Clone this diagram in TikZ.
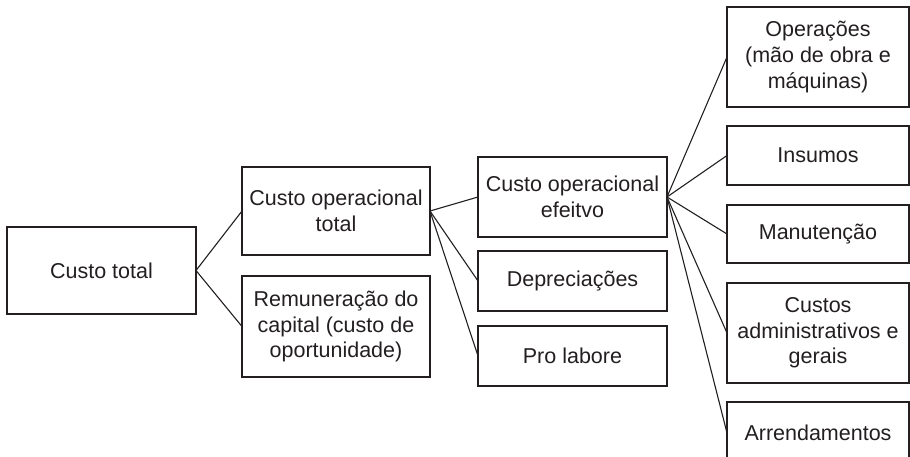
\documentclass[tikz,border=0pt]{standalone}
\usepackage{fontspec}
\setmainfont{Liberation Sans}
\definecolor{ink}{HTML}{231F20}
\begin{document}
\begin{tikzpicture}[
  x=1pt,y=1pt,
  box/.style={draw=ink, line width=1.3pt, inner sep=0pt, outer sep=0pt, align=center,
    text=ink, font=\fontsize{21.5}{25.7}\selectfont},
  link/.style={draw=ink, line width=1.1pt}
]
\useasboundingbox (0,0) rectangle (910,-457);
\node[box, minimum width=189, minimum height=87] (ct) at (101.5,-270.5) {Custo total};
\node[box, minimum width=188, minimum height=88] (cot) at (336,-211) {Custo operacional\\total};
\node[box, minimum width=188, minimum height=101] (rem) at (336,-326.5) {Remuneração do\\capital (custo de\\oportunidade)};
\node[box, minimum width=189, minimum height=80] (coe) at (572.5,-197) {Custo operacional\\efeitvo};
\node[box, minimum width=189, minimum height=60] (dep) at (572.5,-281) {Depreciações};
\node[box, minimum width=189, minimum height=60] (pro) at (572.5,-356) {Pro labore};
\node[box, minimum width=182, minimum height=100] (op) at (818,-57) {Operações\\(mão de obra e\\máquinas)};
\node[box, minimum width=182, minimum height=59] (ins) at (818,-155.5) {Insumos};
\node[box, minimum width=182, minimum height=58] (man) at (818,-234) {Manutenção};
\node[box, minimum width=182, minimum height=100] (adm) at (818,-333) {Custos\\administrativos e\\gerais};
\node[box, minimum width=182, minimum height=62] (arr) at (818,-433) {Arrendamentos};
\draw[link] (ct.east) -- (cot.west);
\draw[link] (ct.east) -- (rem.west);
\draw[link] (cot.east) -- (coe.west);
\draw[link] (cot.east) -- (dep.west);
\draw[link] (cot.east) -- (pro.west);
\foreach \t in {op,ins,man,adm,arr} \draw[link] (coe.east) -- (\t.west);
\end{tikzpicture}
\end{document}
